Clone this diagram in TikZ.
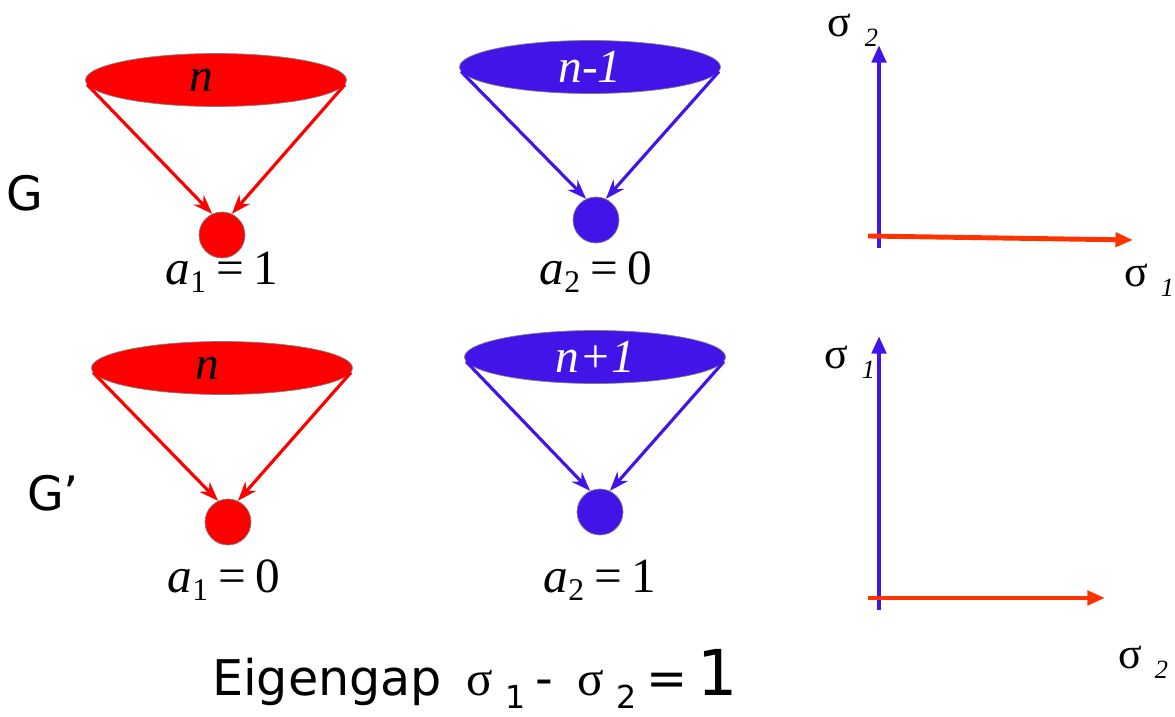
\documentclass[tikz,border=0pt]{standalone}
\usepackage{fontspec}
\setmainfont{Liberation Serif}
\setsansfont{DejaVu Sans}
\usetikzlibrary{positioning,arrows.meta,shapes.geometric,calc}
\definecolor{setred}{RGB}{255,0,0}
\definecolor{setblue}{RGB}{66,20,232}
\definecolor{axisred}{RGB}{255,51,0}
\newcommand{\sig}[1]{σ\hspace{0.3em}\raisebox{-0.5ex}{\fontsize{15}{15}\selectfont\itshape #1}}
\newcommand{\aeq}[2]{\textit{a}\raisebox{-0.35ex}{\fontsize{18}{18}\selectfont #1}\hspace{0.2em}=\hspace{0.2em}#2}

\begin{document}
\begin{tikzpicture}[x=0.02cm, y=-0.02cm,
    set/.style={ellipse, draw=gray, thin, minimum width=5.22cm, minimum height=1.06cm, inner sep=0pt,
                font=\fontsize{27}{27}\selectfont\itshape},
    dot/.style={circle, draw=gray, thin, minimum size=0.92cm, inner sep=0pt},
    link/.style={-{Stealth[length=11pt,width=8pt]}, line width=1.8pt},
    axis/.style={-{Triangle[length=10pt,width=8pt]}, line width=2.8pt},
    eq/.style={font=\fontsize{28}{28}\selectfont},
    lab/.style={font=\fontsize{25}{25}\selectfont},
    big/.style={font=\sffamily\fontsize{27}{27}\selectfont}]
  \useasboundingbox (0,0) rectangle (1175,716);

  \node[big] (g) at (25,193) {G};
  \node[big] (gp) at (53,493) {G’};

  \node[set, fill=setred] (gn) at (216,80) {n\kern0.6em};
  \node[dot, fill=setred] (ga) at (222,235) {};
  \node[eq] (gal) at (222,272) {\aeq{1}{1}};
  \draw[link, setred] (gn.182) -- (ga.115);
  \draw[link, setred] (gn.358) -- (ga.65);

  \node[set, fill=setblue, text=white] (gm) at (590,67) {n-1};
  \node[dot, fill=setblue] (gb) at (596,220) {};
  \node[eq] (gbl) at (596,272) {\aeq{2}{0}};
  \draw[link, setblue] (gm.182) -- (gb.115);
  \draw[link, setblue] (gm.358) -- (gb.65);

  \node[set, fill=setred] (hn) at (222,368) {n\kern0.6em};
  \node[dot, fill=setred] (ha) at (228,522) {};
  \node[eq] (hal) at (224,580) {\aeq{1}{0}};
  \draw[link, setred] (hn.182) -- (ha.115);
  \draw[link, setred] (hn.358) -- (ha.65);

  \node[set, fill=setblue, text=white] (hm) at (595,357) {n+1};
  \node[dot, fill=setblue] (hb) at (600,512) {};
  \node[eq] (hbl) at (600,580) {\aeq{2}{1}};
  \draw[link, setblue] (hm.182) -- (hb.115);
  \draw[link, setblue] (hm.358) -- (hb.65);

  \coordinate (v1s) at (879,248);
  \coordinate (v1e) at (879,45);
  \coordinate (h1s) at (868,236);
  \coordinate (h1e) at (1133,240);
  \draw[axis, setblue] (v1s) -- (v1e);
  \draw[axis, axisred] (h1s) -- (h1e);
  \node[lab] (s2a) at (853,30) {\sig{2}};
  \node[lab] (s1a) at (1149,280) {\sig{1}};

  \coordinate (v2s) at (879,610);
  \coordinate (v2e) at (879,336);
  \coordinate (h2s) at (868,598);
  \coordinate (h2e) at (1105,598);
  \draw[axis, setblue] (v2s) -- (v2e);
  \draw[axis, axisred] (h2s) -- (h2e);
  \node[lab] (s1b) at (850,362) {\sig{1}};
  \node[lab] (s2b) at (1143,662) {\sig{2}};

  \node[big, inner sep=0pt, font=\sffamily\fontsize{28}{28}\selectfont] (gap) at (475,679) {Eigengap\hspace{0.5em}{\rmfamily σ}\hspace{0.25em}\raisebox{-0.5ex}{\fontsize{18}{18}\selectfont 1}\hspace{0.2em}-\hspace{0.5em}{\rmfamily σ}\hspace{0.25em}\raisebox{-0.5ex}{\fontsize{18}{18}\selectfont 2}\hspace{0.2em}=\hspace{0.2em}{\fontsize{36}{36}\selectfont 1}};
\end{tikzpicture}
\end{document}
